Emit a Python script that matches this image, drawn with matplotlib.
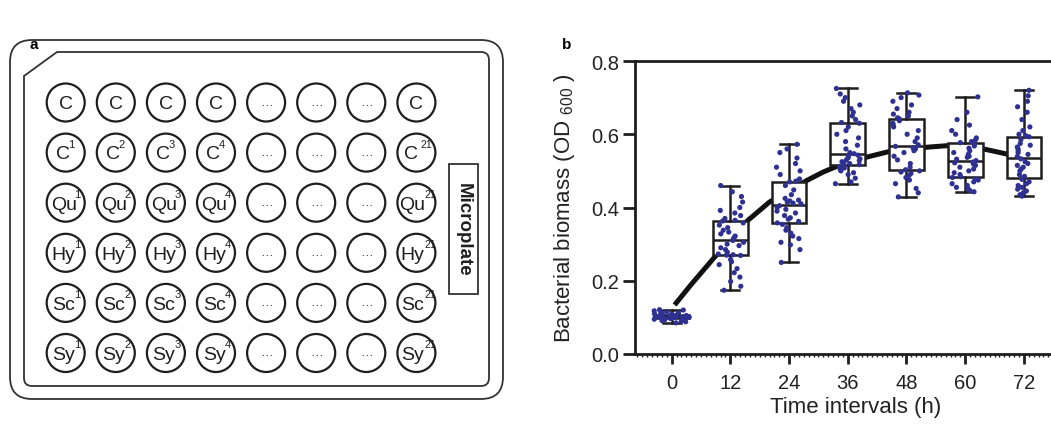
import numpy as np
import matplotlib
matplotlib.use('Agg')
import matplotlib.pyplot as plt
from matplotlib.patches import Circle, FancyBboxPatch, Rectangle, PathPatch
from matplotlib.path import Path
from matplotlib.ticker import MultipleLocator, FormatStrFormatter

plt.rcParams['font.family'] = ['Liberation Sans', 'DejaVu Sans']

# ---- panel a: plate layout ----
row_names = ['C', 'C', 'Qu', 'Hy', 'Sc', 'Sy']
col_sups = ['1', '2', '3', '4', None, None, None, '21']

# ---- panel b: OD600 per time point ----
times = [0, 12, 24, 36, 48, 60, 72]
od_0 = [0.085, 0.088, 0.090, 0.091, 0.093, 0.094, 0.095, 0.096, 0.096, 0.097,
        0.097, 0.098, 0.098, 0.099, 0.099, 0.100, 0.100, 0.100, 0.101, 0.101,
        0.102, 0.102, 0.103, 0.103, 0.104, 0.104, 0.105, 0.105, 0.106, 0.107,
        0.108, 0.109, 0.110, 0.111, 0.112, 0.114, 0.116, 0.118, 0.120, 0.121]
od_12 = [0.174, 0.185, 0.198, 0.210, 0.222, 0.233, 0.244, 0.252, 0.258, 0.269,
         0.270, 0.271, 0.273, 0.278, 0.285, 0.290, 0.296, 0.300, 0.305, 0.310,
         0.314, 0.318, 0.322, 0.328, 0.333, 0.338, 0.345, 0.352, 0.358, 0.363,
         0.365, 0.370, 0.378, 0.385, 0.392, 0.400, 0.415, 0.430, 0.443, 0.460]
od_24 = [0.250, 0.285, 0.298, 0.305, 0.315, 0.322, 0.330, 0.338, 0.345, 0.354,
         0.358, 0.362, 0.368, 0.372, 0.378, 0.385, 0.390, 0.395, 0.400, 0.405,
         0.410, 0.412, 0.415, 0.418, 0.420, 0.425, 0.435, 0.448, 0.460, 0.470,
         0.472, 0.478, 0.490, 0.500, 0.510, 0.520, 0.535, 0.550, 0.560, 0.5725]
od_36 = [0.465, 0.470, 0.480, 0.490, 0.495, 0.500, 0.505, 0.508, 0.512, 0.515,
         0.517, 0.520, 0.522, 0.525, 0.528, 0.530, 0.533, 0.536, 0.540, 0.543,
         0.547, 0.550, 0.560, 0.570, 0.580, 0.590, 0.600, 0.610, 0.620, 0.630,
         0.632, 0.640, 0.650, 0.660, 0.670, 0.680, 0.690, 0.700, 0.710, 0.725]
od_48 = [0.429, 0.440, 0.452, 0.465, 0.475, 0.482, 0.488, 0.493, 0.497, 0.500,
         0.503, 0.510, 0.520, 0.530, 0.540, 0.550, 0.555, 0.560, 0.563, 0.567,
         0.571, 0.580, 0.590, 0.600, 0.610, 0.620, 0.625, 0.630, 0.637, 0.642,
         0.645, 0.650, 0.655, 0.660, 0.670, 0.680, 0.690, 0.700, 0.707, 0.713]
od_60 = [0.443, 0.447, 0.450, 0.455, 0.460, 0.465, 0.470, 0.475, 0.478, 0.482,
         0.484, 0.490, 0.495, 0.500, 0.505, 0.510, 0.515, 0.518, 0.522, 0.524,
         0.528, 0.532, 0.537, 0.540, 0.545, 0.550, 0.555, 0.562, 0.568, 0.575,
         0.577, 0.580, 0.585, 0.590, 0.600, 0.610, 0.625, 0.640, 0.660, 0.702]
od_72 = [0.431, 0.435, 0.440, 0.445, 0.450, 0.455, 0.460, 0.465, 0.470, 0.477,
         0.480, 0.485, 0.490, 0.500, 0.505, 0.510, 0.515, 0.520, 0.525, 0.533,
         0.539, 0.545, 0.550, 0.555, 0.560, 0.565, 0.570, 0.575, 0.585, 0.593,
         0.596, 0.600, 0.610, 0.620, 0.640, 0.660, 0.675, 0.690, 0.705, 0.720]
od_groups = [od_0, od_12, od_24, od_36, od_48, od_60, od_72]

# growth curve
curve_t = [0.6, 4, 8.8, 12, 15.5, 20, 24, 27.5, 31, 34.4, 39.7, 44.2, 48,
           51.6, 56.5, 60, 63.7, 68.5, 72]
curve_od = [0.134, 0.19, 0.265, 0.31, 0.364, 0.415, 0.445, 0.473, 0.497, 0.516,
            0.537, 0.552, 0.56, 0.564, 0.569, 0.567, 0.56, 0.546, 0.535]

# horizontal spread of the dots around each box (hours)
spread = [3.6, 2.8, 2.6, 2.6, 2.9, 2.9, 1.6]

ink = '#1e1e1e'
dot = '#2e3192'

W, H = 1051, 427
fig = plt.figure(figsize=(W / 100, H / 100), dpi=100)

# panel a drawn in pixel coordinates
ax0 = fig.add_axes([0, 0, 1, 1])
ax0.set_xlim(0, W)
ax0.set_ylim(H, 0)
ax0.axis('off')

outer = FancyBboxPatch((10, 41), 493, 359, boxstyle='round,pad=0,rounding_size=22',
                       fc='none', ec='#333333', lw=1.3)
ax0.add_patch(outer)

r = 8
verts = [(24, 77), (57, 53), (489 - r, 53), (489, 53), (489, 53 + r),
         (489, 387 - r), (489, 387), (489 - r, 387), (24 + r, 387), (24, 387),
         (24, 387 - r), (24, 77)]
codes = [Path.MOVETO, Path.LINETO, Path.LINETO, Path.CURVE3, Path.CURVE3,
         Path.LINETO, Path.CURVE3, Path.CURVE3, Path.LINETO, Path.CURVE3,
         Path.CURVE3, Path.CLOSEPOLY]
ax0.add_patch(PathPatch(Path(verts, codes), fc='none', ec='#333333', lw=1.3))

x_start, y_start, step = 65.7, 103.5, 50.1
for i, name in enumerate(row_names):
    for j, sup in enumerate(col_sups):
        cx = x_start + j * step
        cy = y_start + i * step
        ax0.add_patch(Circle((cx, cy), 19, fc='none', ec=ink, lw=1.6))
        if sup is None:
            ax0.text(cx, cy - 1, '\u2026', ha='center', va='center', fontsize=9, color=ink)
            continue
        wide = len(sup) > 1
        if i == 0:
            ax0.text(cx, cy + 1, name, ha='center', va='center', fontsize=14, color=ink)
        elif name == 'C':
            ax0.text(cx - (5 if wide else 3), cy + 1, name, ha='center', va='center',
                     fontsize=14, color=ink)
            ax0.text(cx + (10 if wide else 6), cy - 9, sup, ha='center', va='center',
                     fontsize=7.5 if wide else 8, color=ink)
        else:
            ax0.text(cx - (4 if wide else 2), cy + 2, name, ha='center', va='center',
                     fontsize=14, color=ink)
            ax0.text(cx + (13.5 if wide else 12), cy - 9, sup, ha='center', va='center',
                     fontsize=7.5 if wide else 8, color=ink)

ax0.add_patch(Rectangle((449, 165), 29, 130, fc='none', ec='#333333', lw=1.3))
ax0.text(463.5, 230, 'Microplate', rotation=-90, ha='center', va='center',
         fontsize=13.5, fontweight='bold', color=ink)

fig.text(30 / W, 1 - 45 / H, 'a', fontsize=11, fontweight='bold', va='center')
fig.text(562 / W, 1 - 45 / H, 'b', fontsize=11, fontweight='bold', va='center')

# panel b
ax_l, ax_r, ax_t, ax_b = 635, 1077, 62, 355
ax = fig.add_axes([ax_l / W, (H - ax_b) / H, (ax_r - ax_l) / W, (ax_b - ax_t) / H])
ax.set_zorder(2)
px_per_h = 58.7 / 12
x0 = -7.5
ax.set_xlim(x0, x0 + (ax_r - ax_l) / px_per_h)
ax.set_ylim(0, 0.8)

ax.plot(curve_t, curve_od, color='#111111', lw=3.6, solid_capstyle='butt', zorder=1)

ax.boxplot(od_groups, positions=times, widths=7.1, whis=(0, 100), showfliers=False,
           patch_artist=True, manage_ticks=False, capwidths=3.7,
           boxprops=dict(facecolor='white', edgecolor=ink, lw=1.8),
           medianprops=dict(color=ink, lw=1.8),
           whiskerprops=dict(color=ink, lw=1.8),
           capprops=dict(color=ink, lw=1.8), zorder=2)

# jitter only moves dots sideways; the values come from the lists above
rng = np.random.default_rng(7)
for t, vals, sp in zip(times, od_groups, spread):
    xs = t + rng.uniform(-sp, sp, len(vals))
    ax.scatter(xs, vals, s=14, color=dot, edgecolors='none', zorder=3)

ax.spines['right'].set_visible(False)
for s in ['left', 'bottom', 'top']:
    ax.spines[s].set_linewidth(2)
    ax.spines[s].set_color(ink)

ax.set_xticks(times)
ax.xaxis.set_minor_locator(MultipleLocator(1))
ax.yaxis.set_major_locator(MultipleLocator(0.2))
ax.yaxis.set_major_formatter(FormatStrFormatter('%.1f'))
ax.tick_params(axis='y', which='major', length=8.5, width=2, labelsize=14.5,
               color=ink, labelcolor='#222222', pad=3)
ax.tick_params(axis='x', which='major', length=7.5, width=2, labelsize=14.5,
               color=ink, labelcolor='#222222', pad=6)
ax.tick_params(axis='x', which='minor', length=2.5, width=1, color=ink)
ax.tick_params(top=False, which='both')

ax.set_xlabel('Time intervals (h)', fontsize=16, color='#222222', labelpad=3)
ax.set_ylabel('Bacterial biomass (OD $\\mathregular{_{600}}$ )', fontsize=16,
              color='#222222', labelpad=10)

fig.savefig('out.png', dpi=100)
